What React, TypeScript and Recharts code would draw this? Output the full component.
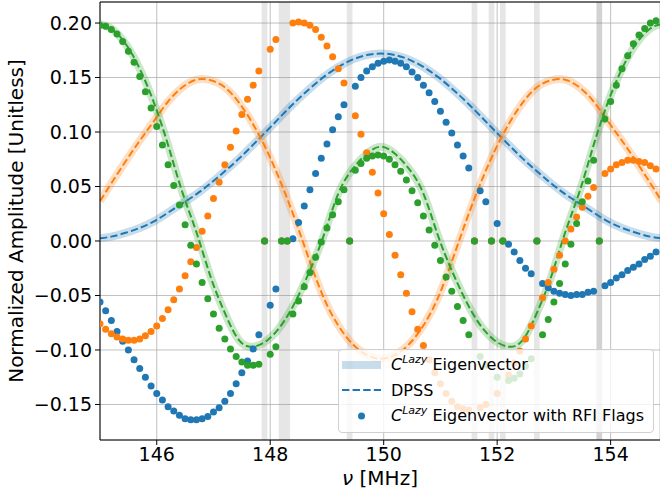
import {
  ComposedChart, Line, Scatter, XAxis, YAxis,
  CartesianGrid, ReferenceArea, ReferenceLine, Legend,
} from 'recharts';

// channel frequencies (MHz)
const freqs = [
  145.0, 145.1, 145.2, 145.3, 145.4, 145.5, 145.6, 145.7, 145.8, 145.9,
  146.0, 146.1, 146.2, 146.3, 146.4, 146.5, 146.6, 146.7, 146.8, 146.9,
  147.0, 147.1, 147.2, 147.3, 147.4, 147.5, 147.6, 147.7, 147.8, 147.9,
  148.0, 148.1, 148.2, 148.3, 148.4, 148.5, 148.6, 148.7, 148.8, 148.9,
  149.0, 149.1, 149.2, 149.3, 149.4, 149.5, 149.6, 149.7, 149.8, 149.9,
  150.0, 150.1, 150.2, 150.3, 150.4, 150.5, 150.6, 150.7, 150.8, 150.9,
  151.0, 151.1, 151.2, 151.3, 151.4, 151.5, 151.6, 151.7, 151.8, 151.9,
  152.0, 152.1, 152.2, 152.3, 152.4, 152.5, 152.6, 152.7, 152.8, 152.9,
  153.0, 153.1, 153.2, 153.3, 153.4, 153.5, 153.6, 153.7, 153.8, 153.9,
  154.0, 154.1, 154.2, 154.3, 154.4, 154.5, 154.6, 154.7, 154.8,
];

// flagged channels (153.8 is flagged twice)
const rfiFlags = [147.9, 148.2, 148.3, 149.4, 151.6, 151.9, 152.1, 152.7, 153.8, 153.8];

// eigenvectors with RFI flags
const blueDots = [
  -0.056, -0.064, -0.073, -0.083, -0.092, -0.100, -0.109, -0.117, -0.125, -0.133,
  -0.140, -0.146, -0.152, -0.156, -0.160, -0.163, -0.164, -0.164, -0.163, -0.161,
  -0.157, -0.153, -0.147, -0.140, -0.131, -0.121, -0.110, -0.099, -0.086, 0,
  -0.059, -0.044, 0, 0, 0.002, 0.017, 0.032, 0.047, 0.062, 0.076,
  0.089, 0.102, 0.114, 0.125, 0, 0.142, 0.150, 0.156, 0.160, 0.163,
  0.165, 0.166, 0.165, 0.163, 0.160, 0.155, 0.150, 0.143, 0.136, 0.128,
  0.119, 0.109, 0.099, 0.088, 0.078, 0.067, 0, 0.046, 0.036, 0,
  0.016, 0, -0.003, -0.010, -0.018, -0.025, -0.030, 0, -0.039, -0.043,
  -0.046, -0.048, -0.049, -0.050, -0.049, -0.049, -0.047, -0.046, 0, -0.041,
  -0.038, -0.034, -0.031, -0.027, -0.024, -0.021, -0.017, -0.014, -0.010,
];

const orangeDots = [
  -0.076, -0.081, -0.085, -0.088, -0.090, -0.091, -0.091, -0.090, -0.087, -0.083,
  -0.078, -0.071, -0.063, -0.054, -0.044, -0.032, -0.019, -0.006, 0.009, 0.023,
  0.039, 0.054, 0.070, 0.086, 0.101, 0.116, 0.130, 0.143, 0.156, 0,
  0.176, 0.185, 0, 0, 0.200, 0.201, 0.200, 0.198, 0.194, 0.187,
  0.179, 0.169, 0.158, 0.145, 0, 0.115, 0.098, 0.081, 0.063, 0.044,
  0.025, 0.006, -0.013, -0.031, -0.048, -0.065, -0.081, -0.096, -0.109, -0.121,
  -0.131, -0.140, -0.147, -0.152, -0.154, -0.155, 0, -0.153, -0.150, 0,
  -0.140, 0, -0.123, -0.112, -0.101, -0.090, -0.078, 0, -0.052, -0.038,
  -0.026, -0.013, 0.000, 0.011, 0.022, 0.031, 0.041, 0.049, 0, 0.062,
  0.066, 0.070, 0.072, 0.074, 0.074, 0.073, 0.072, 0.069, 0.066,
];

const greenDots = [
  0.198, 0.197, 0.194, 0.190, 0.183, 0.174, 0.164, 0.151, 0.137, 0.122,
  0.105, 0.088, 0.070, 0.051, 0.033, 0.015, -0.004, -0.021, -0.038, -0.053,
  -0.067, -0.080, -0.090, -0.099, -0.106, -0.111, -0.114, -0.114, -0.113, 0,
  -0.104, -0.097, 0, 0, -0.067, -0.055, -0.042, -0.029, -0.015, -0.001,
  0.012, 0.024, 0.036, 0.047, 0, 0.065, 0.071, 0.076, 0.078, 0.079,
  0.078, 0.075, 0.070, 0.064, 0.056, 0.046, 0.035, 0.023, 0.010, -0.004,
  -0.018, -0.033, -0.046, -0.060, -0.073, -0.086, 0, -0.106, -0.114, 0,
  -0.125, 0, -0.128, -0.126, -0.122, -0.115, -0.108, 0, -0.086, -0.072,
  -0.056, -0.039, -0.021, -0.003, 0.016, 0.036, 0.055, 0.074, 0, 0.112,
  0.128, 0.143, 0.158, 0.170, 0.181, 0.189, 0.195, 0.200, 0.202,
];

// smooth curves (eigenvector and DPSS overlap)
const smoothX = [
  145.0, 145.2, 145.45, 145.7, 145.95, 146.2, 146.45, 146.7, 146.95, 147.2,
  147.45, 147.7, 147.95, 148.2, 148.45, 148.7, 148.95, 149.2, 149.45, 149.7,
  149.95, 150.2, 150.45, 150.7, 150.95, 151.2, 151.45, 151.7, 151.95, 152.2,
  152.45, 152.7, 152.95, 153.2, 153.45, 153.7, 153.95, 154.2, 154.45, 154.7, 154.9,
];

const blueSmooth = [
  0.0025, 0.004, 0.0075, 0.012, 0.018, 0.026, 0.0345, 0.043, 0.053, 0.064,
  0.0756, 0.0884, 0.1016, 0.115, 0.128, 0.140, 0.1508, 0.1597, 0.1664, 0.1706,
  0.172, 0.1706, 0.1664, 0.1597, 0.1508, 0.140, 0.128, 0.115, 0.1016, 0.0884,
  0.0756, 0.064, 0.053, 0.043, 0.0345, 0.026, 0.018, 0.012, 0.0075, 0.004, 0.0025,
];

const orangeSmooth = [
  0.0365, 0.053, 0.073, 0.092, 0.110, 0.128, 0.141, 0.148, 0.1475, 0.141,
  0.127, 0.107, 0.082, 0.052, 0.018, -0.019, -0.053, -0.0775, -0.0945, -0.1045,
  -0.108, -0.1045, -0.0945, -0.0775, -0.053, -0.019, 0.018, 0.052, 0.082, 0.107,
  0.127, 0.141, 0.1475, 0.148, 0.141, 0.128, 0.110, 0.092, 0.073, 0.053, 0.0365,
];

const greenSmooth = [
  0.199, 0.195, 0.181, 0.158, 0.127, 0.088, 0.045, 0.008, -0.033, -0.066,
  -0.091, -0.097, -0.091, -0.077, -0.055, -0.027, 0.006, 0.0435, 0.066, 0.080,
  0.0865, 0.080, 0.066, 0.0435, 0.006, -0.027, -0.055, -0.077, -0.091, -0.097,
  -0.091, -0.066, -0.033, 0.008, 0.045, 0.088, 0.127, 0.158, 0.181, 0.195, 0.199,
];

const xTicks = [146, 148, 150, 152, 154];
const yTicks = [-0.15, -0.1, -0.05, 0, 0.05, 0.1, 0.15, 0.2];
const xDomain = [145, 154.87];
const yDomain = [-0.1826, 0.2193];

const FONT = '"DejaVu Sans", sans-serif';
const BLUE = '#1f77b4';
const ORANGE = '#ff7f0e';
const GREEN = '#2ca02c';

const toPts = (xs: number[], ys: number[]) => xs.map((x, i) => ({ x, y: ys[i] }));

const series = [
  { color: BLUE, smooth: toPts(smoothX, blueSmooth), dots: toPts(freqs, blueDots) },
  { color: ORANGE, smooth: toPts(smoothX, orangeSmooth), dots: toPts(freqs, orangeDots) },
  { color: GREEN, smooth: toPts(smoothX, greenSmooth), dots: toPts(freqs, greenDots) },
];

const fmtY = (v: number) => (v < 0 ? '\u2212' : '') + Math.abs(v).toFixed(2);

const LazyC = () => (
  <span>
    <i>C</i>
    <span style={{ fontSize: 11, fontStyle: 'italic', position: 'relative', top: -7 }}>Lazy</span>
  </span>
);

function renderLegend() {
  const row = { position: 'absolute' as const, left: 52, lineHeight: '20px', whiteSpace: 'nowrap' as const };
  return (
    <div style={{
      position: 'relative', width: 316, height: 84, boxSizing: 'border-box',
      background: 'rgba(255,255,255,0.8)', border: '1px solid #d0d0d0', borderRadius: 4,
      fontFamily: FONT, fontSize: 16, color: '#000',
    }}>
      <svg width={50} height={84} style={{ position: 'absolute', left: 0, top: 0 }}>
        <line x1={3} x2={42} y1={15} y2={15} stroke={BLUE} strokeOpacity={0.25} strokeWidth={8} />
        <line x1={3} x2={42} y1={40} y2={40} stroke={BLUE} strokeWidth={2} strokeDasharray="7.4 3.2" />
        <circle cx={22.5} cy={66} r={3.5} fill={BLUE} />
      </svg>
      <div style={{ ...row, top: 5 }}><LazyC /> Eigenvector</div>
      <div style={{ ...row, top: 31 }}>DPSS</div>
      <div style={{ ...row, top: 55.5 }}><LazyC /> Eigenvector with RFI Flags</div>
    </div>
  );
}

// x-axis label with an italic nu
const NuLabel = (props: any) => {
  const vb = props.viewBox || {};
  return (
    <text x={vb.x + vb.width / 2} y={vb.y + vb.height - 11} textAnchor="middle"
      fontSize={20} fontFamily={FONT} fill="#000">
      <tspan fontStyle="italic">ν</tspan> [MHz]
    </text>
  );
};

export default function App() {
  const tickStyle = { fontSize: 19, fill: '#000', fontFamily: FONT };
  return (
    <div style={{ position: 'absolute', left: 0, top: 0, fontFamily: FONT }}>
      <ComposedChart width={660} height={496} margin={{ top: 2, right: 0, left: 0, bottom: 0 }}>
        {rfiFlags.map((f, i) => (
          <ReferenceArea key={i} x1={f - 0.05} x2={f + 0.05} fill="#808080" fillOpacity={0.2} stroke="none" />
        ))}
        <CartesianGrid stroke="#b0b0b0" strokeWidth={0.8} />
        <XAxis
          type="number"
          dataKey="x"
          domain={xDomain}
          allowDataOverflow
          ticks={xTicks}
          tick={tickStyle}
          tickLine={{ stroke: '#000' }}
          axisLine={{ stroke: '#000' }}
          tickSize={5}
          tickMargin={3}
          height={56}
          label={<NuLabel />}
        />
        <YAxis
          type="number"
          dataKey="y"
          domain={yDomain}
          allowDataOverflow
          ticks={yTicks}
          tickFormatter={fmtY}
          tick={tickStyle}
          tickLine={{ stroke: '#000' }}
          axisLine={{ stroke: '#000' }}
          tickSize={5}
          tickMargin={3}
          width={100}
          label={{
            value: 'Normalized Amplitude [Unitless]', angle: -90, position: 'insideLeft', offset: 16,
            style: { fontSize: 20, fill: '#000', fontFamily: FONT, textAnchor: 'middle' },
          }}
        />
        <ReferenceLine y={yDomain[1]} stroke="#000" strokeWidth={1} />
        {series.flatMap((s, k) => [
          <Line key={`e${k}`} data={s.smooth} dataKey="y" type="natural" stroke={s.color}
            strokeOpacity={0.25} strokeWidth={8} dot={false} activeDot={false} isAnimationActive={false} />,
          <Line key={`d${k}`} data={s.smooth} dataKey="y" type="natural" stroke={s.color}
            strokeWidth={2} strokeDasharray="7.4 3.2" dot={false} activeDot={false} isAnimationActive={false} />,
          <Scatter key={`s${k}`} data={s.dots} dataKey="y" fill={s.color} isAnimationActive={false}
            shape={(p: any) => <circle cx={p.cx} cy={p.cy} r={3.5} fill={s.color} />} />,
        ])}
        <Legend
          content={renderLegend}
          layout="vertical"
          align="center"
          verticalAlign="middle"
          wrapperStyle={{ left: 338, top: 349, width: 316, height: 84 }}
        />
      </ComposedChart>
    </div>
  );
}
